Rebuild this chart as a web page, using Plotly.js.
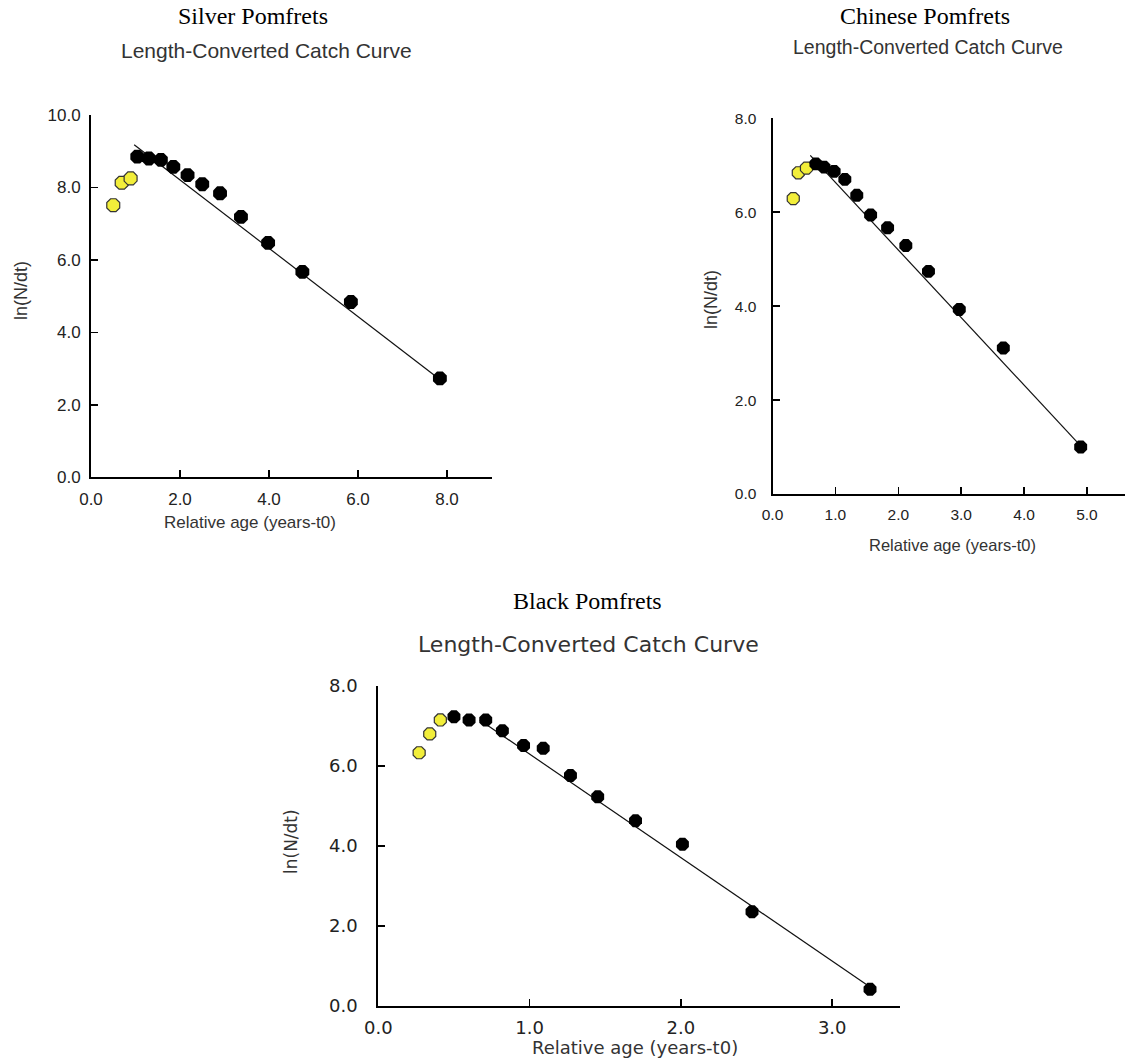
<!DOCTYPE html>
<html>
<head>
<meta charset="utf-8">
<script src="https://cdn.plot.ly/plotly-3.0.1.min.js"></script>
<style>
html,body{margin:0;padding:0;background:#fff;}
#chart{width:1129px;height:1058px;}
</style>
</head>
<body>
<div id="chart"></div>
<script>
// ---------- Data ----------
// Silver Pomfrets
const silverExclX = [0.50, 0.69, 0.89];
const silverExclY = [7.51, 8.13, 8.25];
const silverX = [1.04, 1.30, 1.57, 1.85, 2.17, 2.50, 2.90, 3.37, 3.98, 4.75, 5.84, 7.84];
const silverY = [8.85, 8.80, 8.76, 8.57, 8.34, 8.09, 7.84, 7.19, 6.47, 5.67, 4.84, 2.73];
const silverFitX = [0.97, 7.84];
const silverFitY = [9.18, 2.70];

// Chinese Pomfrets
const chineseExclX = [0.33, 0.41, 0.54];
const chineseExclY = [6.29, 6.84, 6.94];
const chineseX = [0.69, 0.82, 0.98, 1.15, 1.34, 1.56, 1.83, 2.12, 2.48, 2.97, 3.67, 4.90];
const chineseY = [7.03, 6.96, 6.87, 6.70, 6.36, 5.94, 5.67, 5.29, 4.74, 3.93, 3.11, 1.00];
const chineseFitX = [0.60, 4.84];
const chineseFitY = [7.21, 1.11];

// Black Pomfrets
const blackExclX = [0.27, 0.34, 0.41];
const blackExclY = [6.33, 6.80, 7.15];
const blackX = [0.50, 0.60, 0.71, 0.82, 0.96, 1.09, 1.27, 1.45, 1.70, 2.01, 2.47, 3.25];
const blackY = [7.23, 7.15, 7.15, 6.88, 6.51, 6.44, 5.76, 5.23, 4.63, 4.04, 2.35, 0.41];
const blackFitX = [0.67, 3.25];
const blackFitY = [7.15, 0.47];

// Text
const speciesTitles = ["Silver Pomfrets", "Chinese Pomfrets", "Black Pomfrets"];
const subTitle = "Length-Converted Catch Curve";
const xTitle = "Relative age (years-t0)";
const yTitle = "ln(N/dt)";

// ---------- Layout helpers ----------
const W = 1129, H = 1058;
const px = x => x / W;
const py = y => 1 - y / H;

const yellow = '#f2ee3a';
function exclTrace(x, y, ax, size) {
  return {x, y, xaxis: ax[0], yaxis: ax[1], type: 'scatter', mode: 'markers', cliponaxis: false,
    marker: {symbol: 'octagon', size: size, color: yellow, line: {color: '#333', width: 1.2}},
    showlegend: false, hoverinfo: 'x+y'};
}
function usedTrace(x, y, ax, size) {
  return {x, y, xaxis: ax[0], yaxis: ax[1], type: 'scatter', mode: 'markers', cliponaxis: false,
    marker: {symbol: 'octagon', size: size, color: '#000', line: {color: '#000', width: 0}},
    showlegend: false, hoverinfo: 'x+y'};
}
function fitTrace(x, y, ax) {
  return {x, y, xaxis: ax[0], yaxis: ax[1], type: 'scatter', mode: 'lines', cliponaxis: false,
    line: {color: '#111', width: 1.2}, showlegend: false, hoverinfo: 'skip'};
}

const data = [
  fitTrace(silverFitX, silverFitY, ['x', 'y']),
  exclTrace(silverExclX, silverExclY, ['x', 'y'], 14),
  usedTrace(silverX, silverY, ['x', 'y'], 15),
  fitTrace(chineseFitX, chineseFitY, ['x2', 'y2']),
  exclTrace(chineseExclX, chineseExclY, ['x2', 'y2'], 13),
  usedTrace(chineseX, chineseY, ['x2', 'y2'], 14),
  fitTrace(blackFitX, blackFitY, ['x3', 'y3']),
  exclTrace(blackExclX, blackExclY, ['x3', 'y3'], 13),
  usedTrace(blackX, blackY, ['x3', 'y3'], 14)
];

function axis(domain, range, dtick, font, anchor, standoff) {
  return {
    domain: domain, range: range, dtick: dtick, tick0: 0, tickformat: '.1f',
    showline: true, linecolor: '#000', linewidth: 2, ticks: 'inside', ticklen: 7,
    tickwidth: 1.5, tickcolor: '#000', showgrid: false, zeroline: false,
    tickfont: font, anchor: anchor, fixedrange: true, ticklabelstandoff: standoff
  };
}

const fSilver = {family: 'Liberation Sans, Arial, sans-serif', size: 17, color: '#222'};
const fChinese = {family: 'Liberation Sans, Arial, sans-serif', size: 15.5, color: '#222'};
const fBlack = {family: 'DejaVu Sans, Verdana, sans-serif', size: 18, color: '#222'};

const layout = {
  width: W, height: H, margin: {l: 0, r: 0, t: 0, b: 0},
  paper_bgcolor: '#fff', plot_bgcolor: 'rgba(0,0,0,0)',
  showlegend: false,
  xaxis: axis([px(91), px(491.5)], [0, 9], 2, fSilver, 'y', 5),
  yaxis: axis([py(477.3), py(115)], [0, 10], 2, fSilver, 'x', 5),
  xaxis2: axis([px(772.5), px(1124.7)], [0, 5.6], 1, fChinese, 'y2', 5),
  yaxis2: axis([py(494), py(118.3)], [0, 8], 2, fChinese, 'x2', 11),
  xaxis3: axis([px(378.3), px(900.3)], [0, 3.45], 1, fBlack, 'y3', 5),
  yaxis3: axis([py(1005.7), py(686)], [0, 8], 2, fBlack, 'x3', 15),
  annotations: []
};

function ann(text, x, y, font, angle) {
  layout.annotations.push({text: text, xref: 'paper', yref: 'paper', x: px(x), y: py(y),
    xanchor: 'center', yanchor: 'middle', showarrow: false, font: font, textangle: angle || 0});
}
const serif = s => ({family: 'Liberation Serif, Times New Roman, serif', size: s, color: '#000'});
const sans = (s, c) => ({family: 'Liberation Sans, Arial, sans-serif', size: s, color: c || '#333'});
const dv = (s, c) => ({family: 'DejaVu Sans, Verdana, sans-serif', size: s, color: c || '#333'});

// Silver
ann(speciesTitles[0], 253, 16, serif(24));
ann(subTitle, 266, 50, sans(21));
ann(xTitle, 250, 523, sans(17));
ann(yTitle, 21, 291, sans(18), -90);
// Chinese
ann(speciesTitles[1], 925, 16, serif(24));
ann(subTitle, 928, 47, sans(19.5));
ann(xTitle, 952, 545, sans(16.5));
ann(yTitle, 711, 300, sans(18), -90);
// Black
ann(speciesTitles[2], 587, 601, serif(24));
ann(subTitle, 588, 644, dv(22));
ann(xTitle, 635, 1047, dv(18));
ann(yTitle, 291, 842, dv(17), -90);

Plotly.newPlot('chart', data, layout, {displayModeBar: false, staticPlot: true});
</script>
</body>
</html>
